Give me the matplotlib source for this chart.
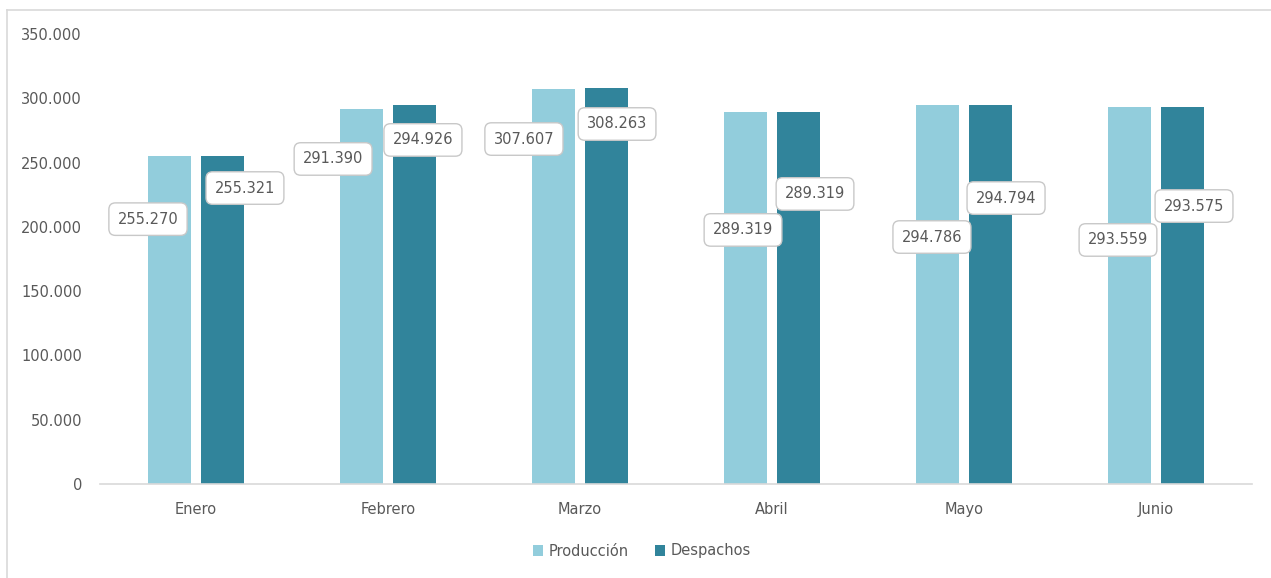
import matplotlib.pyplot as plt
from matplotlib.lines import Line2D
import numpy as np

plt.rcParams['font.family'] = ['DejaVu Sans']

# data
meses = ['Enero', 'Febrero', 'Marzo', 'Abril', 'Mayo', 'Junio']
produccion = [255270, 291390, 307607, 289319, 294786, 293559]
despachos = [255321, 294926, 308263, 289319, 294794, 293575]

# where the (dragged) data labels sit: x offset from category, y in data units
prod_lab_dx = [-0.25, -0.286, -0.292, -0.151, -0.167, -0.198]
prod_lab_y = [206000, 252800, 268300, 197600, 192100, 189800]
desp_lab_dx = [0.255, 0.182, 0.193, 0.224, 0.219, 0.198]
desp_lab_y = [230200, 267600, 280000, 225600, 222400, 216200]

c_light = '#92CDDC'
c_dark = '#31849B'
txt = '#595959'
fs = 10.5

def fmt(v):
    return f'{v:,}'.replace(',', '.')

fig = plt.figure(figsize=(12.71, 5.78), dpi=100)
ax = fig.add_axes([100 / 1271, 94 / 578, 1152 / 1271, 450 / 578])

x = np.arange(len(meses))
w = 0.224
off = 0.14
ax.bar(x - off, produccion, w, color=c_light, label='Producción', zorder=2)
ax.bar(x + off, despachos, w, color=c_dark, label='Despachos', zorder=2)

box = dict(boxstyle='round,pad=0.6,rounding_size=0.45', fc='white', ec='#C8C8C8', lw=1)
for i in range(len(meses)):
    ax.text(i + prod_lab_dx[i], prod_lab_y[i], fmt(produccion[i]), ha='center', va='center',
            fontsize=fs, color=txt, bbox=box, zorder=5)
    ax.text(i + desp_lab_dx[i], desp_lab_y[i], fmt(despachos[i]), ha='center', va='center',
            fontsize=fs, color=txt, bbox=box, zorder=5)

ax.set_xlim(-0.5, len(meses) - 0.5)
ax.set_ylim(0, 350000)
ax.set_yticks(np.arange(0, 350001, 50000))
ax.set_yticklabels([fmt(v) for v in range(0, 350001, 50000)])
ax.set_xticks(x)
ax.set_xticklabels(meses)
ax.tick_params(axis='both', length=0, colors=txt, labelsize=fs)
ax.tick_params(axis='y', pad=13)
ax.tick_params(axis='x', pad=13)
for s in ['top', 'right', 'left']:
    ax.spines[s].set_visible(False)
ax.spines['bottom'].set_color('#D9D9D9')
ax.spines['bottom'].set_linewidth(1.2)

leg = fig.legend(*ax.get_legend_handles_labels(), loc='center',
                 bbox_to_anchor=(642 / 1271, 1 - 551 / 578), ncol=2, frameon=False,
                 fontsize=fs, handlelength=0.7, handleheight=0.7, handletextpad=0.4,
                 columnspacing=1.8)
for t in leg.get_texts():
    t.set_color(txt)

# outer chart border (only top and left visible in crop)
fig.add_artist(Line2D([7 / 1271, 7 / 1271], [0, 1 - 10 / 578], transform=fig.transFigure,
                      color='#D9D9D9', lw=1.2))
fig.add_artist(Line2D([7 / 1271, 1], [1 - 10 / 578, 1 - 10 / 578], transform=fig.transFigure,
                      color='#D9D9D9', lw=1.2))

fig.savefig('out.png', dpi=100)
